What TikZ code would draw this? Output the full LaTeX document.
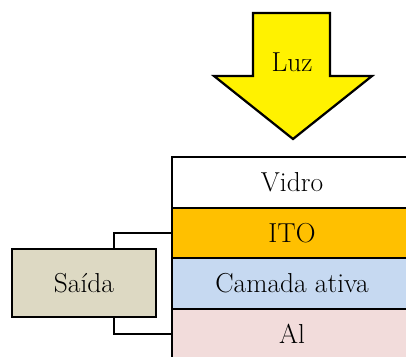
\documentclass[tikz,border=0pt]{standalone}
\usepackage{fontspec}
\usepackage{tikz}
\definecolor{itocol}{HTML}{FFC000}
\definecolor{ativacol}{HTML}{C6D9F1}
\definecolor{alcol}{HTML}{F2DCDB}
\definecolor{saidacol}{HTML}{DDD9C3}
\tikzset{layer/.style={draw,line width=1.6pt,minimum width=6cm,minimum height=1.26cm,inner sep=0pt,font=\fontsize{19.5}{22}\selectfont}}
\tikzset{outbox/.style={draw,line width=1.6pt,fill=saidacol,minimum width=3.6cm,minimum height=1.7cm,inner sep=0pt,font=\fontsize{19.5}{22}\selectfont}}
\tikzset{wire/.style={line width=1.6pt}}

\begin{document}
\begin{tikzpicture}[x=0.025cm,y=-0.025cm]
    \useasboundingbox (0,0) rectangle (406,356);
    \clip (0,0) rectangle (406,356);
    \node[layer,fill=white] (vidro) at (292,182.5) {Vidro};
    \node[layer,fill=itocol] (ito) at (292,233) {ITO};
    \node[layer,fill=ativacol] (ativa) at (292,283.5) {Camada ativa};
    \node[layer,fill=alcol] (al) at (292,334) {Al};
    \node[outbox] (saida) at (84,283) {Saída};
    \draw[wire] (saida.north) ++(30,0) |- (ito.west);
    \draw[wire] (saida.south) ++(30,0) |- (al.west);
    % seta de luz
    \draw[line width=1.6pt,line join=miter,fill=yellow] (253,13) -- (330,13) -- (330,76) -- (372,76)
      -- (293,139) -- (214,76) -- (253,76) -- cycle;
    \node[font=\fontsize{19.5}{22}\selectfont] (luz) at (292,62) {Luz};
  \end{tikzpicture}
\end{document}
